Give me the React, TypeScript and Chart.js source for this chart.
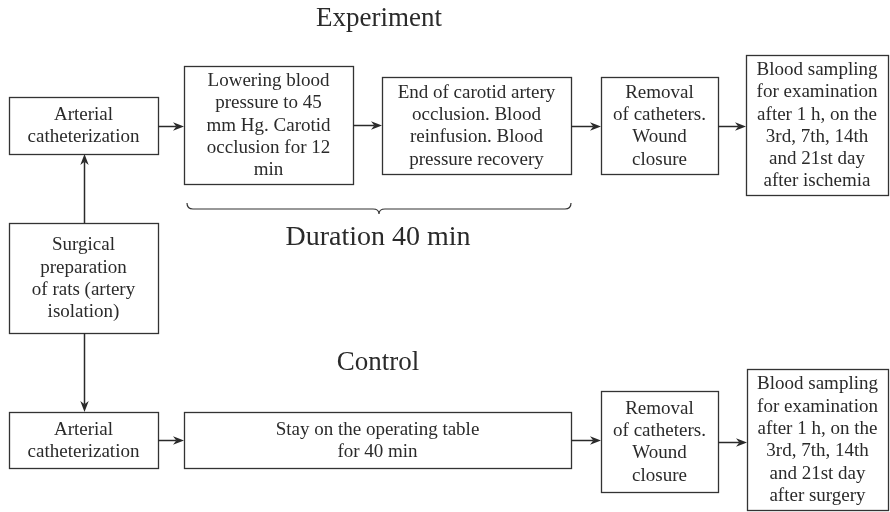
import React, { useEffect, useRef } from "react";
import { Chart, registerables } from "chart.js";

Chart.register(...registerables);

// ---- Flowchart data (coordinates in diagram units, 890 x 512) ----
const nodeLines: string[][] = [
  ["Arterial", "catheterization"],
  ["Lowering blood", "pressure to 45", "mm Hg. Carotid", "occlusion for 12", "min"],
  ["End of carotid artery", "occlusion. Blood", "reinfusion. Blood", "pressure recovery"],
  ["Removal", "of catheters.", "Wound", "closure"],
  ["Blood sampling", "for examination", "after 1 h, on the", "3rd, 7th, 14th", "and 21st day", "after ischemia"],
  ["Surgical", "preparation", "of rats (artery", "isolation)"],
  ["Arterial", "catheterization"],
  ["Stay on the operating table", "for 40 min"],
  ["Removal", "of catheters.", "Wound", "closure"],
  ["Blood sampling", "for examination", "after 1 h, on the", "3rd, 7th, 14th", "and 21st day", "after surgery"],
];
const nodeLeft = [9, 184, 382, 601, 746, 9, 9, 184, 601, 747];
const nodeTop = [97, 66, 77, 77, 55, 223, 412, 412, 391, 369];
const nodeRight = [158, 353, 571, 718, 888, 158, 158, 571, 718, 888];
const nodeBottom = [154, 184, 174, 174, 195, 333, 468, 468, 492, 510];

const arrowFrom = [0, 1, 2, 3, 5, 5, 6, 7, 8];
const arrowTo = [1, 2, 3, 4, 0, 6, 7, 8, 9];

const titleText = ["Experiment", "Duration 40 min", "Control"];
const titleX = [379, 378, 378];
const titleY = [26, 245, 370];

const braceStart = 187;
const braceEnd = 571;
const braceY = 209;

const FONT = '"Liberation Serif", "Times New Roman", serif';
const INK = "#2a2a2a";

const flowPlugin = {
  id: "flow",
  afterDraw(chart: any) {
    const ctx: CanvasRenderingContext2D = chart.ctx;
    const xs = chart.scales.x;
    const ys = chart.scales.y;
    const X = (v: number) => xs.getPixelForValue(v);
    const Y = (v: number) => ys.getPixelForValue(v);
    ctx.save();

    // boxes
    ctx.strokeStyle = "#333";
    ctx.lineWidth = 1.3;
    ctx.fillStyle = INK;
    ctx.textAlign = "center";
    ctx.textBaseline = "alphabetic";
    const fs = 19;
    const lh = 22.3;
    ctx.font = `${fs}px ${FONT}`;
    for (let i = 0; i < nodeLines.length; i++) {
      const l = X(nodeLeft[i]);
      const t = Y(nodeTop[i]);
      const r = X(nodeRight[i]);
      const b = Y(nodeBottom[i]);
      ctx.strokeRect(Math.round(l) + 0.5, Math.round(t) + 0.5, Math.round(r - l), Math.round(b - t));
      const cx = (l + r) / 2;
      const cy = (t + b) / 2;
      const n = nodeLines[i].length;
      nodeLines[i].forEach((line, k) => {
        const y = cy + (k - (n - 1) / 2) * lh + fs * 0.3;
        ctx.fillText(line, cx, y);
      });
    }

    // arrows
    const head = (tx: number, ty: number, dx: number, dy: number) => {
      const len = 11;
      const hw = 4.2;
      const px = -dy, py = dx;
      ctx.beginPath();
      ctx.moveTo(tx, ty);
      ctx.lineTo(tx - dx * len + px * hw, ty - dy * len + py * hw);
      ctx.lineTo(tx - dx * len * 0.7, ty - dy * len * 0.7);
      ctx.lineTo(tx - dx * len - px * hw, ty - dy * len - py * hw);
      ctx.closePath();
      ctx.fill();
    };
    ctx.strokeStyle = INK;
    ctx.fillStyle = INK;
    ctx.lineWidth = 1.5;
    for (let a = 0; a < arrowFrom.length; a++) {
      const f = arrowFrom[a];
      const t = arrowTo[a];
      let x1, y1, x2, y2;
      if (nodeLeft[t] >= nodeRight[f] - 1) {
        const yc = (nodeTop[f] + nodeBottom[f]) / 2;
        x1 = X(nodeRight[f]); y1 = Y(yc);
        x2 = X(nodeLeft[t]); y2 = Y(yc);
      } else if (nodeTop[t] >= nodeBottom[f] - 1) {
        const xc = (nodeLeft[f] + nodeRight[f]) / 2;
        x1 = X(xc); y1 = Y(nodeBottom[f]);
        x2 = X(xc); y2 = Y(nodeTop[t]);
      } else {
        const xc = (nodeLeft[f] + nodeRight[f]) / 2;
        x1 = X(xc); y1 = Y(nodeTop[f]);
        x2 = X(xc); y2 = Y(nodeBottom[t]);
      }
      const L = Math.hypot(x2 - x1, y2 - y1);
      const dx = (x2 - x1) / L, dy = (y2 - y1) / L;
      const ox = dx === 0 ? 0.5 : 0;
      const oy = dy === 0 ? 0.5 : 0;
      const sx = Math.round(x1) + ox, sy = Math.round(y1) + oy;
      const ex = Math.round(x2) + ox, ey = Math.round(y2) + oy;
      ctx.beginPath();
      ctx.moveTo(sx, sy);
      ctx.lineTo(ex - dx * 8, ey - dy * 8);
      ctx.stroke();
      head(ex, ey, dx, dy);
    }

    // brace
    const bx1 = X(braceStart), bx2 = X(braceEnd), by = Y(braceY);
    const bm = (bx1 + bx2) / 2;
    ctx.lineWidth = 1.2;
    ctx.strokeStyle = "#333";
    ctx.beginPath();
    ctx.moveTo(bx1, by - 6);
    ctx.quadraticCurveTo(bx1, by, bx1 + 6, by);
    ctx.lineTo(bm - 6, by);
    ctx.quadraticCurveTo(bm, by, bm, by + 5);
    ctx.quadraticCurveTo(bm, by, bm + 6, by);
    ctx.lineTo(bx2 - 6, by);
    ctx.quadraticCurveTo(bx2, by, bx2, by - 6);
    ctx.stroke();

    // titles
    ctx.fillStyle = INK;
    ctx.textAlign = "center";
    ctx.textBaseline = "alphabetic";
    titleText.forEach((t, i) => {
      ctx.font = `${i === 1 ? 28 : 27}px ${FONT}`;
      ctx.fillText(t, X(titleX[i]), Y(titleY[i]));
    });
    ctx.restore();
  },
};

export default function App() {
  const ref = useRef<HTMLCanvasElement | null>(null);
  useEffect(() => {
    document.body.style.margin = "0";
    const canvas = ref.current!;
    const chart = new Chart(canvas, {
      type: "scatter",
      data: { datasets: [{ data: [], showLine: false }] },
      options: {
        animation: false,
        responsive: false,
        devicePixelRatio: 1,
        layout: { padding: 0 },
        plugins: { legend: { display: false }, tooltip: { enabled: false }, title: { display: false } },
        scales: {
          x: { type: "linear", min: 0, max: 890, display: false },
          y: { type: "linear", min: 0, max: 512, reverse: true, display: false },
        },
      },
      plugins: [flowPlugin],
    });
    return () => chart.destroy();
  }, []);
  return (
    <div style={{ width: 890, height: 512, background: "#fff" }}>
      <canvas ref={ref} width={890} height={512} style={{ display: "block", width: 890, height: 512 }} />
    </div>
  );
}
